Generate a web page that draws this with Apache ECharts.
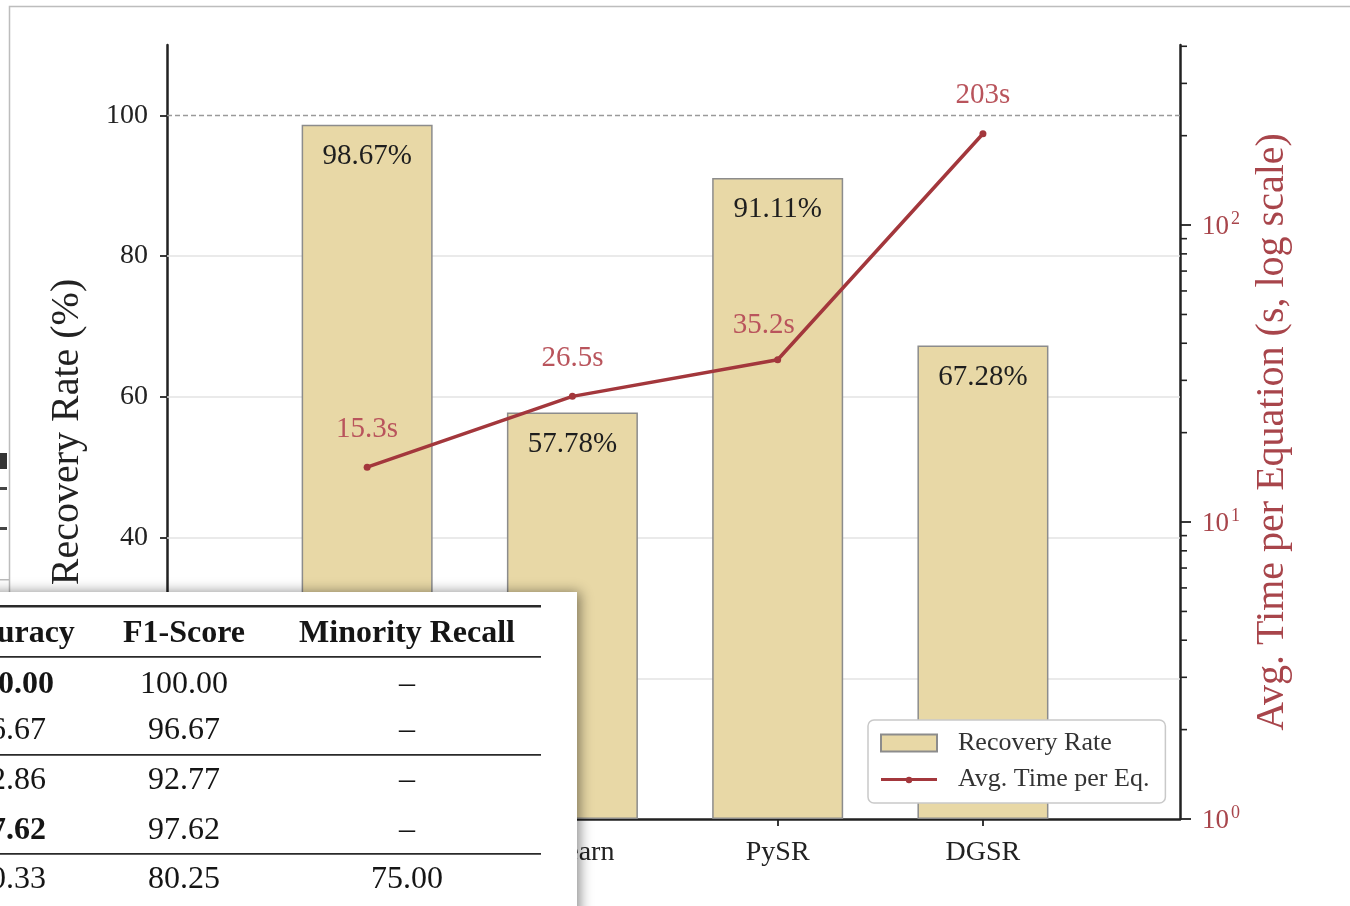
<!DOCTYPE html>
<html>
<head>
<meta charset="utf-8">
<script src="https://cdn.jsdelivr.net/npm/echarts@6/dist/echarts.min.js"></script>
<style>
  html, body { margin: 0; padding: 0; background: #fff; }
  #chart { width: 1350px; height: 906px; }
</style>
</head>
<body>
<div id="chart"></div>
<script>
// Methods compared and their measured results
const methods = ['Ours', 'gplearn', 'PySR', 'DGSR'];
const recoveryRate = [98.67, 57.78, 91.11, 67.28];   // %
const avgTime = [15.3, 26.5, 35.2, 203];             // seconds per equation

// Axis ticks
const rateTicks = [0, 20, 40, 60, 80, 100];
const rateGridLines = [20, 40, 60, 80];
const rateReference = 100;
const timeMajorTicks = [1, 10, 100];
const timeMinorTicks = [2, 3, 4, 5, 6, 7, 8, 9, 20, 30, 40, 50, 60, 70, 80, 90, 200, 300, 400];

// Classification table laid over the lower-left corner
const tableHeader = ['Accuracy', 'F1-Score', 'Minority Recall'];
const tableAccuracy = ['100.00', '96.67', '92.86', '97.62', '80.33'];
const tableAccuracyBold = [true, false, false, true, false];
const tableF1 = ['100.00', '96.67', '92.77', '97.62', '80.25'];
const tableMinorityRecall = ['\u2013', '\u2013', '\u2013', '\u2013', '75.00'];

const SERIF = '"Liberation Serif", "Times New Roman", "DejaVu Serif", serif';
const BAR_COLOR = '#e8d8a6';
const LINE_COLOR = '#a3373c';
const TIME_TEXT = '#a8454b';

// legend glyph for the time series: thin line with a small dot in the middle
const LINE_ICON = 'path://M0,0 L0.01,0 L0,0.01 Z M55.99,17 L56,17 L56,16.99 Z ' +
  'M0,7.5 L56,7.5 L56,10.5 L0,10.5 Z ' +
  'M31.2,9.5 A3.2,3.2 0 1 1 24.8,9.5 A3.2,3.2 0 1 1 31.2,9.5 Z';

const chart = echarts.init(document.getElementById('chart'), null, { renderer: 'canvas' });

// ---- table overlay (graphic elements) ----
const colX = [10, 184, 407];
const headerY = 634;
const rowY = [685, 731, 781, 831, 880];
const rules = [
  { y: 605, h: 2.6 },
  { y: 656, h: 1.8 },
  { y: 754, h: 1.8 },
  { y: 853, h: 1.8 }
];

function cellText(text, x, y, bold) {
  return {
    type: 'text', z: 102, silent: true,
    style: {
      text: text, x: x, y: y,
      align: 'center', verticalAlign: 'middle',
      fontFamily: SERIF, fontSize: 32,
      fontWeight: bold ? 'bold' : 'normal',
      fill: '#151515'
    }
  };
}

const tableElements = [
  {
    type: 'rect', z: 100, silent: true,
    shape: { x: -30, y: 592, width: 607, height: 340 },
    style: { fill: '#ffffff', shadowBlur: 12, shadowColor: 'rgba(0,0,0,0.45)', shadowOffsetX: 3, shadowOffsetY: 0 }
  }
];
rules.forEach(r => tableElements.push({
  type: 'rect', z: 101, silent: true,
  shape: { x: -10, y: r.y, width: 551, height: r.h },
  style: { fill: '#2a2a2a' }
}));
tableHeader.forEach((h, c) => tableElements.push(cellText(h, colX[c], headerY, true)));
rowY.forEach((y, r) => {
  tableElements.push(cellText(tableAccuracy[r], colX[0], y, tableAccuracyBold[r]));
  tableElements.push(cellText(tableF1[r], colX[1], y, false));
  tableElements.push(cellText(tableMinorityRecall[r], colX[2], y, false));
});

// figure frame and the clipped marks at the far left edge
const frameElements = [
  {
    type: 'rect', z: 0, silent: true,
    shape: { x: 9.5, y: 6.5, width: 1400, height: 1000 },
    style: { fill: 'none', stroke: '#bdbdbd', lineWidth: 1.5 }
  },
  { type: 'rect', z: 0, silent: true, shape: { x: 0, y: 453, width: 7, height: 16 }, style: { fill: '#333' } },
  { type: 'rect', z: 0, silent: true, shape: { x: 0, y: 487, width: 7, height: 3 }, style: { fill: '#444' } },
  { type: 'rect', z: 0, silent: true, shape: { x: 0, y: 527, width: 7, height: 3 }, style: { fill: '#444' } },
  { type: 'rect', z: 0, silent: true, shape: { x: 0, y: 579, width: 9, height: 1.5 }, style: { fill: '#bbb' } }
];

// ---- series data ----
const barData = recoveryRate.map((v, i) => [i, v]);
const lineData = avgTime.map((v, i) => {
  const item = { value: [i, v] };
  if (i === 2) item.label = { offset: [-14, 4] };
  return item;
});
const categoryPositions = methods.map((_, i) => i);

const gridLineData = rateGridLines.map(v => ({
  yAxis: v,
  lineStyle: { color: '#e3e3e3', width: 1.6, type: 'solid' }
})).concat([{
  yAxis: rateReference,
  lineStyle: { color: '#9a9a9a', width: 1.4, type: [5, 3] }
}]);

const option = {
  backgroundColor: '#ffffff',
  animation: false,
  textStyle: { fontFamily: SERIF },
  graphic: { elements: frameElements.concat(tableElements) },
  grid: { left: 167, right: 170, top: 45, bottom: 87 },
  legend: {
    orient: 'vertical',
    left: 868,
    top: 720,
    padding: [10, 16, 11, 12],
    itemWidth: 56,
    itemHeight: 17,
    itemGap: 10,
    backgroundColor: '#ffffff',
    borderColor: '#c9c9c9',
    borderWidth: 1.5,
    borderRadius: 6,
    textStyle: { fontFamily: SERIF, fontSize: 26, color: '#333', padding: [0, 0, 0, 16] },
    data: [
      { name: 'Recovery Rate', icon: 'rect' },
      { name: 'Avg. Time per Eq.', icon: LINE_ICON }
    ]
  },
  xAxis: {
    type: 'value',
    min: -0.975,
    max: 3.96,
    axisLine: { show: true, onZero: false, lineStyle: { color: '#222', width: 2.5 } },
    axisTick: { show: true, customValues: categoryPositions, length: 7, lineStyle: { color: '#222', width: 1.8 } },
    axisLabel: {
      customValues: categoryPositions,
      formatter: v => methods[Math.round(v)],
      fontFamily: SERIF, fontSize: 28, color: '#222', margin: 20
    },
    splitLine: { show: false }
  },
  yAxis: [
    {
      type: 'value',
      position: 'left',
      min: 0,
      max: 110,
      name: 'Recovery Rate (%)',
      nameLocation: 'middle',
      nameRotate: 90,
      nameGap: 80,
      nameTextStyle: { fontFamily: SERIF, fontSize: 40, color: '#222' },
      axisLine: { show: true, onZero: false, lineStyle: { color: '#222', width: 2.5 } },
      axisTick: { show: true, customValues: rateTicks, length: 7, lineStyle: { color: '#222', width: 1.8 } },
      axisLabel: { customValues: rateTicks, fontFamily: SERIF, fontSize: 28, color: '#222', margin: 19 },
      splitLine: { show: false }
    },
    {
      type: 'log',
      logBase: 10,
      position: 'right',
      min: 1,
      max: 404,
      name: 'Avg. Time per Equation (s, log scale)',
      nameLocation: 'middle',
      nameRotate: 90,
      nameGap: 72,
      nameTextStyle: { fontFamily: SERIF, fontSize: 40, color: TIME_TEXT },
      axisLine: { show: true, onZero: false, lineStyle: { color: '#222', width: 2.5 } },
      axisTick: { show: true, customValues: timeMajorTicks, length: 11, lineStyle: { color: '#222', width: 1.8 } },
      axisLabel: {
        customValues: timeMajorTicks,
        margin: 22,
        formatter: v => '{b|10}{e|' + Math.round(Math.log10(v)) + '}',
        rich: {
          b: { fontFamily: SERIF, fontSize: 27, color: TIME_TEXT, lineHeight: 30, verticalAlign: 'bottom' },
          e: { fontFamily: SERIF, fontSize: 18, color: TIME_TEXT, lineHeight: 30, verticalAlign: 'top', padding: [0, 0, 0, 2] }
        }
      },
      splitLine: { show: false }
    }
  ],
  series: [
    {
      name: 'Recovery Rate',
      type: 'bar',
      xAxisIndex: 0,
      yAxisIndex: 0,
      data: barData,
      barWidth: 131,
      z: 2,
      itemStyle: { color: BAR_COLOR, borderColor: '#8c8c8c', borderWidth: 1.5 },
      label: {
        show: true,
        position: 'insideTop',
        distance: 17,
        formatter: p => p.value[1].toFixed(2) + '%',
        fontFamily: SERIF, fontSize: 29, color: '#1e1e1e'
      },
      markLine: {
        silent: true,
        z: 1,
        symbol: 'none',
        label: { show: false },
        data: gridLineData
      }
    },
    {
      name: 'Avg. Time per Eq.',
      type: 'line',
      xAxisIndex: 0,
      yAxisIndex: 1,
      data: lineData,
      z: 4,
      symbol: 'circle',
      symbolSize: 7,
      itemStyle: { color: LINE_COLOR },
      lineStyle: { color: LINE_COLOR, width: 3.5 },
      label: {
        show: true,
        position: 'top',
        distance: 20,
        formatter: p => p.value[1] + 's',
        fontFamily: SERIF, fontSize: 29, color: '#b9545c'
      }
    },
    {
      // minor ticks of the logarithmic time axis
      type: 'custom',
      xAxisIndex: 0,
      yAxisIndex: 1,
      silent: true,
      clip: false,
      z: 5,
      data: timeMinorTicks.map(v => [0, v]),
      renderItem: (params, api) => {
        const y = api.coord([0, api.value(1)])[1];
        const x = params.coordSys.x + params.coordSys.width;
        return {
          type: 'line',
          shape: { x1: x, y1: y, x2: x + 7, y2: y },
          style: { stroke: '#222', lineWidth: 1.6 }
        };
      }
    }
  ]
};

chart.setOption(option);
</script>
</body>
</html>
